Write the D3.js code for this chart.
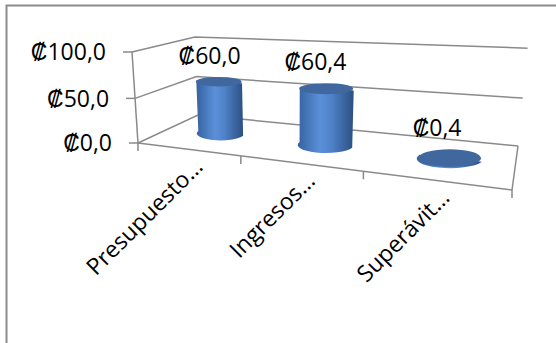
<!DOCTYPE html>
<meta charset="utf-8">
<style>
body { margin: 0; background: #fff; }
text { font-family: "Open Sans", sans-serif; fill: #000; }
.grid { stroke: #8a8a8a; stroke-width: 1.5px; fill: none; }
</style>
<body>
<script src="https://d3js.org/d3.v7.min.js"></script>
<script>

var categories = ["Presupuesto…", "Ingresos…", "Superávit…"];
var values = [60.0, 60.4, 0.4];
var valueTicks = [0, 50, 100];

var width = 556, height = 343;

// currency format: ₡60,0
var locale = d3.formatLocale({decimal: ",", thousands: ".", grouping: [3], currency: ["₡", ""]});
var fmt = locale.format("$.1f");

// floor corners on screen, vanishing point of the verticals, height factor
var floorQuad = [[138, 143], [512, 190], [518, 146], [198, 115]];
var vanish = [291, 2466];
var lift = -0.0377;

// unit square -> quad (perspective), also returns the depth term
function squareToQuad(q) {
    var x0 = q[0][0], y0 = q[0][1], x1 = q[1][0], y1 = q[1][1],
        x2 = q[2][0], y2 = q[2][1], x3 = q[3][0], y3 = q[3][1];
    var dx1 = x1 - x2, dx2 = x3 - x2, dx3 = x0 - x1 + x2 - x3;
    var dy1 = y1 - y2, dy2 = y3 - y2, dy3 = y0 - y1 + y2 - y3;
    var den = dx1 * dy2 - dx2 * dy1;
    var g = (dx3 * dy2 - dx2 * dy3) / den, h = (dx1 * dy3 - dx3 * dy1) / den;
    var a = x1 - x0 + g * x1, b = x3 - x0 + h * x3, c = x0;
    var d = y1 - y0 + g * y1, e = y3 - y0 + h * y3, f = y0;
    return function(s, t) {
        var z = g * s + h * t + 1;
        return [(a * s + b * t + c) / z, (d * s + e * t + f) / z, z];
    };
}
var floorMap = squareToQuad(floorQuad);

var x = d3.scaleBand().domain(categories).range([0, 1]);
var y = d3.scaleLinear().domain([0, 100]).range([0, 1]);

// s: across categories, val: value, t: depth (0 front, 1 back)
function P(s, val, t) {
    var f = floorMap(s, t), k = lift * y(val);
    var r = k / (f[2] + k);
    return [f[0] + (vanish[0] - f[0]) * r, f[1] + (vanish[1] - f[1]) * r];
}
function mid(c) { return x(c) + x.bandwidth() / 2; }

var svg = d3.select("body").append("svg")
    .attr("width", width)
    .attr("height", height);

// chart border
svg.append("rect")
    .attr("x", 6.5).attr("y", 5.5)
    .attr("width", 700).attr("height", 500)
    .attr("fill", "none").attr("stroke", "#8c8c8c").attr("stroke-width", 2);

var line = d3.line();
var grid = svg.append("g");

// gridlines on side and back wall
valueTicks.forEach(function(v) {
    grid.append("path").attr("class", "grid")
        .attr("d", line([P(0, v, 0), P(0, v, 1), P(1, v, 1)]));
    var p = P(0, v, 0);
    grid.append("path").attr("class", "grid")
        .attr("d", line([[p[0] - 9, p[1]], p]));
});

// value axis and floor edges
grid.append("path").attr("class", "grid").attr("d", line([P(0, 0, 0), P(0, 100, 0)]));
grid.append("path").attr("class", "grid").attr("d", line([P(0, 0, 0), P(1, 0, 0), P(1, 0, 1)]));

// category ticks
d3.range(categories.length + 1).forEach(function(i) {
    var p = P(i / categories.length, 0, 0);
    grid.append("path").attr("class", "grid")
        .attr("d", line([p, [p[0], p[1] + 8]]));
});

// value axis labels
svg.append("g").selectAll("text")
    .data(valueTicks)
    .enter().append("text")
    .attr("x", function(d) { return P(0, d, 0)[0] - 26; })
    .attr("y", function(d) { return P(0, d, 0)[1]; })
    .attr("dy", "0.36em")
    .attr("text-anchor", "end")
    .style("font-size", "23px")
    .text(function(d) { return fmt(d); });

// cylinder shading
var defs = svg.append("defs");
var grad = defs.append("linearGradient").attr("id", "cyl").attr("x1", 0).attr("x2", 1).attr("y1", 0).attr("y2", 0);
grad.append("stop").attr("offset", 0).attr("stop-color", "#3562a0");
grad.append("stop").attr("offset", 0.4).attr("stop-color", "#5b90d8");
grad.append("stop").attr("offset", 0.6).attr("stop-color", "#4f82c8");
grad.append("stop").attr("offset", 1).attr("stop-color", "#2c4f82");

var ru = 0.077, rw = 0.22, depth = 0.5;
var cyl = svg.append("g").selectAll("g")
    .data(categories.map(function(c, i) { return {cat: c, value: values[i]}; }))
    .enter().append("g");

cyl.each(function(d) {
    var g = d3.select(this), s = mid(d.cat) + 0.012;
    var bl = P(s - ru, 0, depth), br = P(s + ru, 0, depth);
    var tl = P(s - ru, d.value, depth), tr = P(s + ru, d.value, depth);
    var tc = P(s, d.value, depth);
    var rxB = (br[0] - bl[0]) / 2, rxT = (tr[0] - tl[0]) / 2;
    var ryB = (P(s, 0, depth - rw)[1] - P(s, 0, depth + rw)[1]) / 2;
    var ryT = (P(s, d.value, depth - rw)[1] - P(s, d.value, depth + rw)[1]) / 2;
    g.append("path")
        .attr("d", "M" + bl + "L" + tl + "L" + tr + "L" + br +
            "A" + rxB + "," + ryB + " 0 0 1 " + bl + "Z")
        .attr("fill", "url(#cyl)");
    g.append("ellipse")
        .attr("cx", tc[0]).attr("cy", tc[1])
        .attr("rx", rxT).attr("ry", ryT)
        .attr("fill", "#40689e");
    g.append("text")
        .attr("x", tc[0] - rxT * 0.4)
        .attr("y", tc[1] - ryT - 13)
        .attr("text-anchor", "middle")
        .style("font-size", "23px")
        .text(fmt(d.value));
});

// category labels
svg.append("g").selectAll("text")
    .data(categories)
    .enter().append("text")
    .attr("transform", function(d) {
        var p = P(mid(d), 0, 0);
        return "translate(" + (p[0] + 17) + "," + (p[1] + 19) + ") rotate(-45)";
    })
    .attr("text-anchor", "end")
    .style("font-size", "23px")
    .text(function(d) { return d; });

</script>
</body>
